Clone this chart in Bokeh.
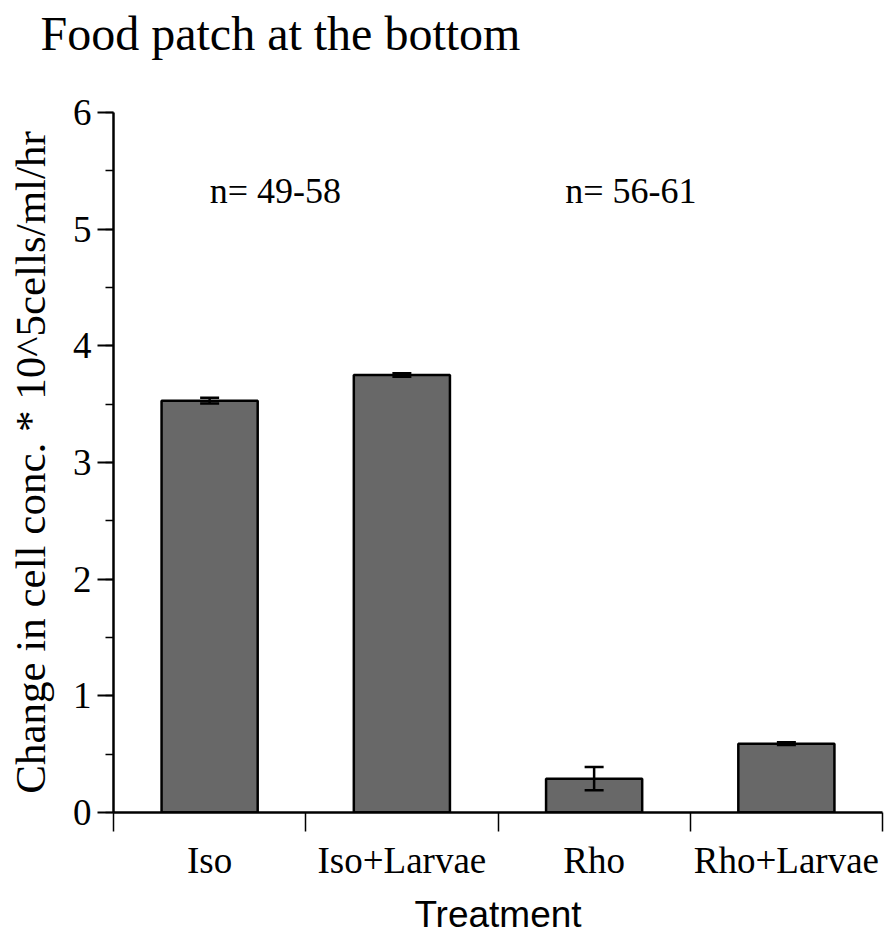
from bokeh.plotting import figure
from bokeh.models import (ColumnDataSource, Range1d, FixedTicker, SingleIntervalTicker,
                          Whisker, TeeHead, Label, Title)
from bokeh.embed import file_html
from bokeh.resources import INLINE

# ---- data ----
title_text = "Food patch at the bottom"
categories = ["Iso", "Iso+Larvae", "Rho", "Rho+Larvae"]
means = [3.53, 3.75, 0.29, 0.59]
errors = [0.025, 0.015, 0.10, 0.012]
n_texts = ["n= 49-58", "n= 56-61"]
n_pos_x = [0.5, 2.35]
n_pos_y = [5.33, 5.33]

SERIF = "Liberation Serif"
SANS = "Liberation Sans"

centers = [i + 0.5 for i in range(len(categories))]
bounds = [float(i) for i in range(len(categories) + 1)]

src = ColumnDataSource(dict(
    x=centers, top=means,
    upper=[m + e for m, e in zip(means, errors)],
    lower=[m - e for m, e in zip(means, errors)],
))

p = figure(frame_width=769, frame_height=700,
           x_range=Range1d(0, len(categories)), y_range=Range1d(0, 6),
           output_backend="svg", toolbar_location=None,
           min_border_left=113, min_border_right=4, min_border_top=0,
           min_border_bottom=123)

p.outline_line_color = None
p.xgrid.grid_line_color = None
p.ygrid.grid_line_color = None
p.background_fill_color = "white"
p.border_fill_color = "white"

p.vbar(x="x", top="top", width=0.5, bottom=0, source=src,
       fill_color="#686868", line_color="black", line_width=2.5)

p.add_layout(Whisker(source=src, base="x", upper="upper", lower="lower",
                     dimension="height", line_color="black", line_width=2.5,
                     level="overlay",
                     upper_head=TeeHead(size=19, line_color="black", line_width=2.5),
                     lower_head=TeeHead(size=19, line_color="black", line_width=2.5)))

for t, x, y in zip(n_texts, n_pos_x, n_pos_y):
    p.add_layout(Label(x=x, y=y, text=t, text_font=SERIF, text_font_size="36px",
                       text_align="left", text_baseline="alphabetic", text_color="black"))

# spacer between frame and title
p.add_layout(Title(text=" ", text_font_size="1px", standoff=46), "above")

# title
p.title.text = title_text
p.title.text_font = SERIF
p.title.text_font_size = "48px"
p.title.text_font_style = "normal"
p.title.text_color = "black"
p.title.offset = -73
p.title.standoff = 8

# x axis
xa = p.xaxis[0]
xa.ticker = FixedTicker(ticks=centers, minor_ticks=bounds)
xa.major_label_overrides = {c: lab for c, lab in zip(centers, categories)}
xa.major_tick_out = 0
xa.major_tick_in = 0
xa.minor_tick_out = 19
xa.minor_tick_in = 0
xa.minor_tick_line_color = "black"
xa.minor_tick_line_width = 1.5
xa.axis_line_width = 2.5
xa.axis_line_color = "black"
xa.major_label_text_font = SERIF
xa.major_label_text_font_size = "37px"
xa.major_label_text_color = "black"
xa.major_label_standoff = 8
xa.axis_label = "Treatment"
xa.axis_label_text_font = SANS
xa.axis_label_text_font_size = "37px"
xa.axis_label_text_font_style = "normal"
xa.axis_label_text_color = "black"
xa.axis_label_standoff = 10

# y axis
ya = p.yaxis[0]
ya.ticker = SingleIntervalTicker(interval=1, num_minor_ticks=2)
ya.major_tick_out = 16
ya.major_tick_in = 0
ya.minor_tick_out = 8
ya.minor_tick_in = 0
ya.major_tick_line_width = 2
ya.minor_tick_line_width = 1.5
ya.major_tick_line_color = "black"
ya.minor_tick_line_color = "black"
ya.axis_line_width = 2.5
ya.axis_line_color = "black"
ya.major_label_text_font = SERIF
ya.major_label_text_font_size = "37px"
ya.major_label_text_color = "black"
ya.major_label_standoff = 6
ya.axis_label = "Change in cell conc. * 10^5cells/ml/hr"
ya.axis_label_text_font = SERIF
ya.axis_label_text_font_size = "43px"
ya.axis_label_text_font_style = "normal"
ya.axis_label_text_color = "black"
ya.axis_label_standoff = 16

open("out.html", "w").write(file_html(p, INLINE))
